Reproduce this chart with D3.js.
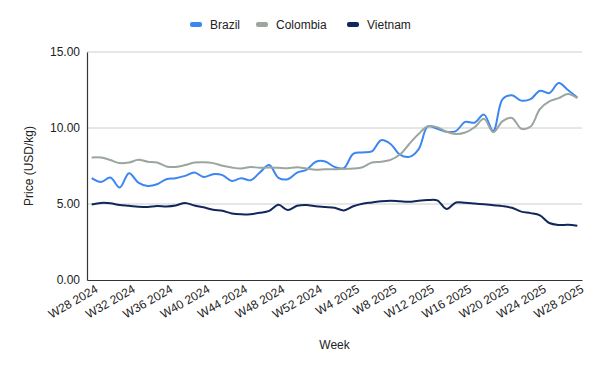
<!DOCTYPE html>
<html>
<head>
<meta charset="utf-8">
<script src="https://cdn.jsdelivr.net/npm/d3@7"></script>
<style>
  body { margin: 0; background: #fff; }
  svg { display: block; font-family: "Liberation Sans", Arial, sans-serif; }
</style>
</head>
<body>
<div id="chart"></div>
<script>
// Weekly coffee prices, W28 2024 to W28 2025
const weeks = [
  "W28 2024", "W29 2024", "W30 2024", "W31 2024", "W32 2024", "W33 2024", "W34 2024",
  "W35 2024", "W36 2024", "W37 2024", "W38 2024", "W39 2024", "W40 2024", "W41 2024",
  "W42 2024", "W43 2024", "W44 2024", "W45 2024", "W46 2024", "W47 2024", "W48 2024",
  "W49 2024", "W50 2024", "W51 2024", "W52 2024", "W1 2025", "W2 2025", "W3 2025",
  "W4 2025", "W5 2025", "W6 2025", "W7 2025", "W8 2025", "W9 2025", "W10 2025",
  "W11 2025", "W12 2025", "W13 2025", "W14 2025", "W15 2025", "W16 2025", "W17 2025",
  "W18 2025", "W19 2025", "W20 2025", "W21 2025", "W22 2025", "W23 2025", "W24 2025",
  "W25 2025", "W26 2025", "W27 2025", "W28 2025"
];

const brazil = [
  6.70, 6.45, 6.74, 6.08, 7.03, 6.41, 6.19, 6.30, 6.63, 6.70, 6.85, 7.07, 6.78, 6.96,
  6.90, 6.52, 6.70, 6.56, 7.07, 7.56, 6.72, 6.63, 7.07, 7.25, 7.78, 7.80, 7.44, 7.36,
  8.30, 8.39, 8.46, 9.20, 8.95, 8.25, 8.10, 8.60, 10.10, 9.95, 9.75, 9.80, 10.40, 10.35,
  10.88, 9.80, 11.90, 12.15, 11.80, 11.90, 12.45, 12.30, 12.96, 12.50, 12.00
];

const colombia = [
  8.06, 8.06, 7.89, 7.69, 7.73, 7.91, 7.78, 7.73, 7.47, 7.44, 7.56, 7.73, 7.75, 7.69,
  7.51, 7.40, 7.33, 7.44, 7.38, 7.40, 7.38, 7.36, 7.42, 7.33, 7.25, 7.29, 7.28, 7.31,
  7.33, 7.42, 7.73, 7.78, 7.90, 8.25, 8.95, 9.60, 10.12, 10.05, 9.75, 9.60, 9.70, 10.05,
  10.60, 9.72, 10.45, 10.66, 9.95, 10.10, 11.25, 11.75, 11.97, 12.24, 11.97
];

const vietnam = [
  4.97, 5.07, 5.05, 4.93, 4.88, 4.82, 4.80, 4.87, 4.84, 4.90, 5.07, 4.90, 4.78, 4.62,
  4.55, 4.38, 4.32, 4.33, 4.42, 4.55, 4.95, 4.60, 4.88, 4.93, 4.85, 4.80, 4.75, 4.58,
  4.85, 5.02, 5.10, 5.18, 5.22, 5.18, 5.15, 5.22, 5.26, 5.24, 4.67, 5.10, 5.08, 5.03,
  4.98, 4.92, 4.86, 4.75, 4.50, 4.40, 4.25, 3.75, 3.62, 3.63, 3.57
];

const yTicks = [0, 5, 10, 15];

const series = [
  { name: "Brazil", values: brazil, color: "#3b86f2" },
  { name: "Colombia", values: colombia, color: "#9aa69e" },
  { name: "Vietnam", values: vietnam, color: "#11275c" }
];

const W = 600, H = 371;
const margin = { top: 52, right: 18, bottom: 91, left: 87 };
const width = W - margin.left - margin.right;
const height = H - margin.top - margin.bottom;

const svg = d3.select("#chart").append("svg")
  .attr("width", W)
  .attr("height", H);

const g = svg.append("g")
  .attr("transform", `translate(${margin.left},${margin.top})`);

const x = d3.scalePoint()
  .domain(weeks)
  .range([0, width])
  .padding(0.5);

const y = d3.scaleLinear()
  .domain([0, 15])
  .range([height, 0]);

// gridlines
g.append("g")
  .selectAll("line")
  .data(yTicks.filter(d => d > 0))
  .join("line")
  .attr("x1", 0)
  .attr("x2", width)
  .attr("y1", d => y(d))
  .attr("y2", d => y(d))
  .attr("stroke", "#cccccc")
  .attr("stroke-width", 1);

// y axis
const yAxis = g.append("g")
  .call(d3.axisLeft(y).tickValues(yTicks).tickFormat(d3.format(".2f")).tickSize(0).tickPadding(7));
yAxis.select(".domain").attr("stroke", "#333").attr("stroke-width", 1.2);
yAxis.selectAll("text").style("font-size", "12px").attr("fill", "#222");

// x axis
const xAxis = g.append("g")
  .attr("transform", `translate(0,${height})`)
  .call(d3.axisBottom(x).tickValues(weeks.filter((d, i) => i % 4 === 0)).tickSize(0).tickPadding(6));
xAxis.select(".domain").attr("stroke", "#333").attr("stroke-width", 1.2);
xAxis.selectAll("text")
  .style("font-size", "12px")
  .attr("fill", "#222")
  .attr("text-anchor", "end")
  .attr("dy", "0.6em")
  .attr("transform", "rotate(-30)");

// lines
const line = d3.line()
  .x((d, i) => x(weeks[i]))
  .y(d => y(d))
  .curve(d3.curveCatmullRom.alpha(0.5));

g.selectAll(".series")
  .data(series)
  .join("path")
  .attr("class", "series")
  .attr("fill", "none")
  .attr("stroke", d => d.color)
  .attr("stroke-width", 2)
  .attr("d", d => line(d.values));

// axis titles
svg.append("text")
  .attr("x", margin.left + width / 2)
  .attr("y", 349)
  .attr("text-anchor", "middle")
  .style("font-size", "12px")
  .attr("fill", "#222")
  .text("Week");

svg.append("text")
  .attr("transform", `translate(33,${margin.top + height / 2}) rotate(-90)`)
  .attr("text-anchor", "middle")
  .style("font-size", "12px")
  .attr("fill", "#222")
  .text("Price (USD/kg)");

// legend
const legendX = [190, 256, 347];
const legend = svg.append("g")
  .selectAll("g")
  .data(series)
  .join("g")
  .attr("transform", (d, i) => `translate(${legendX[i]},25)`);

legend.append("rect")
  .attr("x", 0)
  .attr("y", -3)
  .attr("width", 12)
  .attr("height", 5)
  .attr("rx", 2)
  .attr("fill", d => d.color);

legend.append("text")
  .attr("x", 20)
  .attr("y", 0)
  .attr("dy", "0.35em")
  .style("font-size", "12px")
  .attr("fill", "#222")
  .text(d => d.name);
</script>
</body>
</html>
